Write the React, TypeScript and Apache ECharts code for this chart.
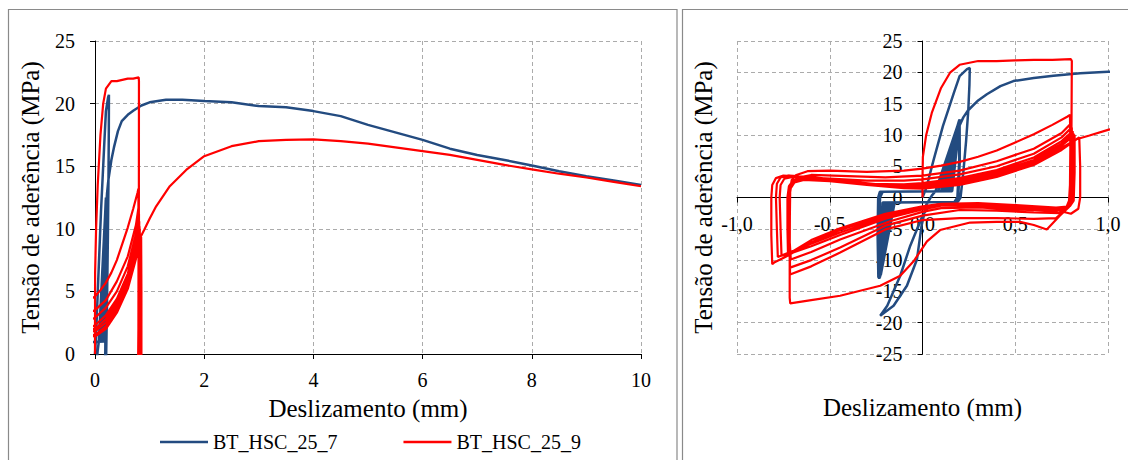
import React, { useEffect, useRef } from "react";
import * as echarts from "echarts";

const FONT = "Liberation Serif, Times New Roman, DejaVu Serif, serif";
const BLUE = "#234B80";
const RED = "#FF0000";

const seriesNames = ["BT_HSC_25_7", "BT_HSC_25_9"];

const xTicksLeft = { min: 0, max: 10, interval: 2 };
const yTicksLeft = { min: 0, max: 25, interval: 5 };
const xTicksRight = { min: -1, max: 1, interval: 0.5 };
const yTicksRight = { min: -25, max: 25, interval: 5 };

// BT_HSC_25_7 : [slip (mm), bond stress (MPa)]
const blueFirstLoad = [
  [0, 0], [0.02, 1.5], [0.06, 6], [0.11, 11.4], [0.17, 16.8], [0.2, 19.4], [0.24, 20.5], [0.255, 20.7],
];
const blueFirstUnload = [
  [0.253, 18], [0.247, 14], [0.235, 9], [0.22, 4], [0.205, 0], [0.19, -0.7], [0.1, -1.0], [0.03, -1.6],
  [0, -2.9], [-0.066, -7.7], [-0.12, -12.5], [-0.19, -17.3], [-0.228, -18.9],
];
const blueReload = [
  [-0.156, -17.3], [-0.084, -14.1], [-0.03, -9.9], [-0.005, -4.5], [0.02, -1.2], [0.05, 0.3],
];
const blueCycles = [
  [0.07, 1.0], [0.195, 12.0],
  [0.198, 6], [0.188, 0], [0.172, -0.7], [-0.15, -0.8], [-0.225, -12.4],
  [-0.232, -6], [-0.229, 0], [-0.215, 0.9], [0.085, 1.0], [0.197, 12.3],
  [0.199, 6], [0.19, 0], [0.174, -0.7], [-0.16, -0.8], [-0.228, -12.6],
  [-0.234, -6], [-0.231, 0], [-0.218, 0.9], [0.1, 1.0], [0.2, 12.5],
  [0.2, 6], [0.191, 0], [0.175, -0.7], [-0.17, -0.8], [-0.23, -12.8],
  [-0.236, -6], [-0.233, 0], [-0.22, 0.9], [0.11, 1.0], [0.198, 12.2],
  [0.2, 6], [0.19, 0], [0.176, -0.7], [-0.18, -0.8], [-0.232, -12.9],
  [-0.238, -6], [-0.235, 0], [-0.222, 0.9], [0.12, 1.0], [0.2, 12.4],
  [0.201, 6], [0.192, 0], [0.177, -0.7], [-0.19, -0.8], [-0.234, -13.0],
  [-0.239, -6], [-0.236, 0], [-0.224, 0.9], [0.13, 1.0], [0.199, 12.3],
  [0.2, 6], [0.191, 0], [0.178, -0.7], [-0.2, -0.8], [-0.235, -12.7],
  [-0.24, -6], [-0.237, 0], [-0.226, 0.9], [0.14, 1.0], [0.2, 12.1],
  [0.201, 6], [0.192, 0], [0.179, -0.7], [-0.21, -0.8], [-0.237, -12.5],
  [-0.241, -6], [-0.238, 0], [-0.228, 0.9], [0.15, 1.0], [0.2, 12.2],
  [0.201, 6], [0.193, 0], [0.18, -0.7], [-0.215, -0.8], [-0.238, -12.8],
  [-0.242, -6], [-0.239, 0], [-0.23, 0.9], [0.16, 1.0],
];
const blueEnvelope = [
  [0.185, 8], [0.2, 11.5], [0.22, 12.8], [0.245, 13.9], [0.3, 15.5], [0.347, 16.5], [0.42, 17.8],
  [0.49, 18.6], [0.6, 19.1], [0.706, 19.45], [0.85, 19.85], [1.0, 20.1], [1.3, 20.3], [1.6, 20.3], [2.0, 20.2],
  [2.5, 20.1], [3.0, 19.8], [3.5, 19.7], [4.0, 19.4], [4.5, 19.0], [5.0, 18.3], [5.5, 17.7], [6.0, 17.1],
  [6.5, 16.4], [7.0, 15.9], [7.5, 15.5], [8.0, 15.05], [8.5, 14.6], [9.0, 14.2], [9.5, 13.85], [10, 13.5],
];

// BT_HSC_25_9 : [slip (mm), bond stress (MPa)]
const redFirstLoad = [
  [0, 0], [0, 3], [0.002, 6.5], [0.02, 10], [0.05, 13.5], [0.1, 17.5], [0.15, 20], [0.2, 21.2], [0.3, 21.8],
  [0.4, 21.8], [0.5, 21.9], [0.6, 22], [0.7, 22], [0.8, 22.1], [0.805, 21.8],
];
const redFirstReverse = [
  [0.803, 10], [0.8, 0], [0.79, -1.5], [0.74, -2.9], [0.67, -5.1], [0.6, -4.4], [0.526, -3.9], [0.4, -3.9],
  [0.257, -4.0], [0.095, -5.2], [0.024, -7.0], [-0.048, -10.2], [-0.12, -12.5], [-0.228, -14.1],
  [-0.444, -15.7], [-0.6, -16.4], [-0.713, -16.9],
];
const redCycles = [
  [-0.716, -16], [-0.716, -10], [-0.715, -3], [-0.713, 1.5], [-0.705, 2.8], [-0.68, 3.6], [-0.62, 4.2],
  [-0.5, 4.3], [-0.3, 4.1], [-0.1, 4.3], [0, 4.6], [0.1, 5.1], [0.2, 5.7], [0.3, 6.5], [0.4, 7.5], [0.5, 8.8],
  [0.6, 10.1], [0.7, 11.6], [0.78, 12.9], [0.795, 13.2],
  [0.797, 8], [0.795, 2], [0.79, -0.5], [0.77, -2.0], [0.72, -3.3], [0.6, -3.4], [0.4, -3.3], [0.2, -3.3],
  [0, -3.6], [-0.2, -5.1], [-0.444, -8.8], [-0.6, -11], [-0.714, -12.3],
  [-0.716, -8], [-0.716, -2], [-0.713, 1.2], [-0.7, 2.5], [-0.67, 3.2], [-0.6, 3.6], [-0.4, 3.4], [-0.2, 3.2],
  [0, 3.5], [0.2, 4.3], [0.4, 5.8], [0.6, 7.8], [0.75, 10.3], [0.8, 11.8],
  [0.802, 6], [0.798, 0], [0.785, -1.5], [0.74, -2.5], [0.6, -2.4], [0.4, -2.1], [0.2, -2.0], [0, -2.9],
  [-0.2, -4.5], [-0.444, -8.0], [-0.6, -10], [-0.714, -11.2],
  [-0.717, -6], [-0.716, 0], [-0.71, 1.8], [-0.69, 2.8], [-0.64, 3.2], [-0.5, 3.0], [-0.3, 2.7], [-0.1, 2.7],
  [0, 2.9], [0.2, 3.7], [0.4, 5.0], [0.6, 7.0], [0.75, 9.6], [0.805, 11.2],
  [0.806, 5], [0.8, -0.5], [0.78, -1.7], [0.72, -2.2], [0.5, -1.9], [0.3, -1.6], [0.1, -1.7], [0, -2.3],
  [-0.175, -3.8], [-0.444, -6.7], [-0.6, -8.7], [-0.71, -9.9],
  [-0.72, -5], [-0.718, 0], [-0.71, 1.5], [-0.69, 2.4], [-0.64, 2.8], [-0.5, 2.6], [-0.3, 2.2], [-0.1, 2.1],
  [0, 2.3], [0.2, 3.1], [0.4, 4.4], [0.6, 6.4], [0.75, 9.0], [0.81, 10.6],
  [0.81, 4], [0.805, -0.5], [0.785, -1.5], [0.72, -2.0], [0.5, -1.6], [0.3, -1.3], [0.1, -1.3], [0, -1.9],
  [-0.2, -3.4], [-0.444, -6], [-0.6, -7.8], [-0.72, -9.0], [-0.76, -9.3],
  [-0.765, -5], [-0.77, 0], [-0.765, 2], [-0.745, 3.0], [-0.7, 3.3], [-0.6, 3.1], [-0.4, 2.5], [-0.2, 2.0],
  [0, 2.0], [0.2, 2.8], [0.4, 4.1], [0.6, 6.0], [0.75, 8.6], [0.815, 10.2],
  [0.815, 4], [0.81, -0.5], [0.79, -1.5], [0.72, -1.8], [0.5, -1.4], [0.3, -1.1], [0.1, -1.1], [0, -1.7],
  [-0.2, -3.1], [-0.444, -5.6], [-0.6, -7.4], [-0.72, -8.8], [-0.78, -9.5],
  [-0.785, -5], [-0.79, 0], [-0.785, 2.2], [-0.765, 3.2], [-0.72, 3.5], [-0.6, 3.3], [-0.4, 2.6], [-0.2, 2.0],
  [0, 1.8], [0.2, 2.5], [0.4, 3.8], [0.6, 5.7], [0.75, 8.3], [0.82, 10.0],
  [0.82, 4], [0.815, -0.5], [0.795, -1.4], [0.72, -1.6], [0.5, -1.2], [0.3, -0.9], [0.1, -1.0], [0, -1.5],
  [-0.2, -2.8], [-0.444, -5.2], [-0.6, -7.2], [-0.74, -9.5], [-0.8, -10.4], [-0.81, -10.65],
  [-0.815, -6], [-0.815, 0], [-0.81, 2], [-0.79, 3.1], [-0.75, 3.5], [-0.65, 3.3], [-0.5, 2.8], [-0.3, 2.1],
  [-0.1, 1.6], [0, 1.5], [0.2, 2.2], [0.4, 3.5], [0.6, 5.4], [0.75, 7.9], [0.83, 9.3], [0.845, 9.6],
  [0.85, 5], [0.85, 0], [0.84, -1.8], [0.8, -2.6], [0.72, -2.0], [0.5, -1.3], [0.3, -1.0], [0.1, -1.0],
  [0, -1.4], [-0.2, -2.6], [-0.444, -4.9], [-0.6, -6.8], [-0.7, -8.6], [-0.725, -9.2],
  [-0.728, -5], [-0.728, 0], [-0.72, 1.8], [-0.7, 2.6], [-0.65, 2.9], [-0.5, 2.6], [-0.3, 2.0], [-0.1, 1.5],
  [0, 1.4], [0.2, 2.0], [0.4, 3.3], [0.6, 5.2], [0.75, 7.6], [0.83, 9.3],
];
const redEnvelope = [
  [0.9, 9.9], [1.0, 10.8], [1.12, 11.8], [1.37, 13.4], [1.67, 14.7], [2.0, 15.8], [2.5, 16.6], [3.0, 17.0],
  [3.5, 17.1], [4.0, 17.15], [4.5, 17.0], [5.0, 16.8], [5.5, 16.5], [6.0, 16.2], [6.5, 15.9], [7.0, 15.5],
  [7.5, 15.1], [8.0, 14.75], [8.5, 14.4], [9.0, 14.1], [9.5, 13.75], [10, 13.4],
];

const blueData = [...blueFirstLoad, ...blueFirstUnload, ...blueReload, ...blueCycles, ...blueEnvelope];
const redData = [...redFirstLoad, ...redFirstReverse, ...redCycles, ...redEnvelope];

const xTitle = "Deslizamento (mm)";
const yTitle = "Tensão de aderência (MPa)";

export default function App() {
  const ref = useRef<HTMLDivElement>(null);

  useEffect(() => {
    if (!ref.current) return;
    const chart = echarts.init(ref.current, null, { renderer: "svg" });

    const gridLine = { show: true, lineStyle: { color: "#ababab", type: [4, 3], width: 1 } };
    const axisLine = { show: true, onZero: false, lineStyle: { color: "#000", width: 1 } };
    const axisTick = { show: true, inside: false, length: 5, lineStyle: { color: "#000" } };
    const label = { color: "#000", fontSize: 20, fontFamily: FONT };
    const nameStyle = { color: "#000", fontSize: 25, fontFamily: FONT, verticalAlign: "middle" };

    const mkSeries = (name: string, data: number[][], color: string, width: number, idx: number) => ({
      name,
      type: "line",
      xAxisIndex: idx,
      yAxisIndex: idx,
      data,
      symbol: "none",
      showSymbol: false,
      clip: true,
      lineStyle: { color, width },
      itemStyle: { color },
      emphasis: { disabled: true },
    });

    chart.setOption({
      animation: false,
      backgroundColor: "#fff",
      textStyle: { fontFamily: FONT },
      grid: [
        { left: 95, top: 41, width: 546, height: 313, containLabel: false, outerBoundsMode: "none" },
        { left: 737, top: 41, width: 371, height: 313, containLabel: false, outerBoundsMode: "none" },
      ],
      legend: {
        data: seriesNames,
        left: 160,
        top: 432,
        padding: 0,
        icon: "rect",
        itemWidth: 48,
        itemHeight: 2.5,
        itemGap: 66,
        textStyle: { color: "#000", fontSize: 20, fontFamily: FONT },
      },
      xAxis: [
        {
          type: "value", gridIndex: 0, ...xTicksLeft,
          axisLine, axisTick, splitLine: gridLine,
          axisLabel: { ...label, margin: 16 },
          name: xTitle, nameLocation: "middle", nameGap: 54, nameTextStyle: nameStyle,
        },
        {
          type: "value", gridIndex: 1, ...xTicksRight, position: "bottom", offset: -156.5,
          axisLine, axisTick, splitLine: gridLine,
          axisLabel: { ...label, margin: 16, formatter: (v: number) => v.toFixed(1).replace(".", ",") },
          name: xTitle, nameLocation: "middle", nameGap: 210, nameTextStyle: nameStyle,
        },
      ],
      yAxis: [
        {
          type: "value", gridIndex: 0, ...yTicksLeft,
          axisLine, axisTick, splitLine: gridLine,
          axisLabel: { ...label, margin: 20 },
          name: yTitle, nameLocation: "middle", nameGap: 65, nameTextStyle: nameStyle,
        },
        {
          type: "value", gridIndex: 1, ...yTicksRight, position: "left", offset: -185.5,
          axisLine, axisTick, splitLine: gridLine,
          axisLabel: { ...label, margin: 20 },
          name: yTitle, nameLocation: "middle", nameGap: 219, nameTextStyle: nameStyle,
        },
      ],
      series: [
        mkSeries(seriesNames[0], blueData, BLUE, 2.5, 0),
        mkSeries(seriesNames[1], redData, RED, 2.2, 0),
        mkSeries(seriesNames[0], blueData, BLUE, 2.5, 1),
        mkSeries(seriesNames[1], redData, RED, 2.2, 1),
      ],
      graphic: [
        {
          type: "rect", silent: true, z: -10,
          shape: { x: 8.5, y: 9.5, width: 668.5, height: 480 },
          style: { fill: "none", stroke: "#8a8a8a", lineWidth: 1.2 },
        },
        {
          type: "rect", silent: true, z: -10,
          shape: { x: 682.5, y: 9.5, width: 480, height: 480 },
          style: { fill: "none", stroke: "#8a8a8a", lineWidth: 1.2 },
        },
      ],
    });

    return () => chart.dispose();
  }, []);

  return (
    <div
      ref={ref}
      style={{ position: "absolute", left: 0, top: 0, width: 1128, height: 460, background: "#fff" }}
    />
  );
}
